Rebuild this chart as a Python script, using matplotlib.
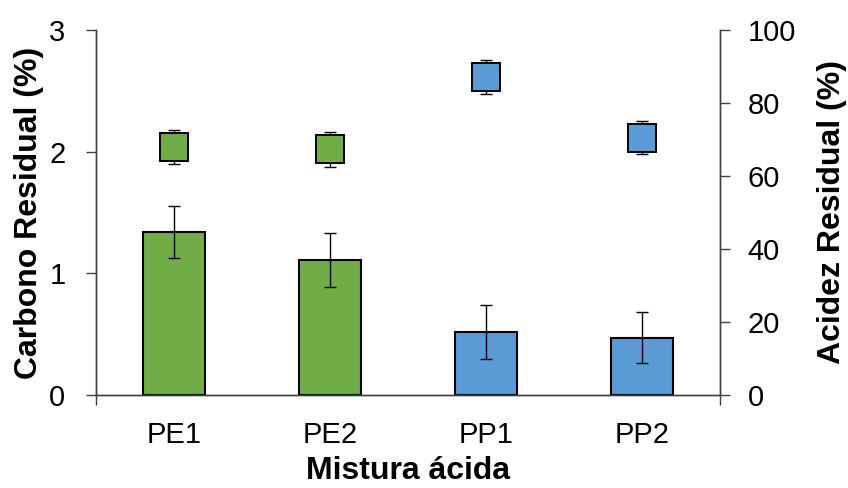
import matplotlib
matplotlib.use("Agg")
import matplotlib.pyplot as plt
import numpy as np

plt.rcParams['font.family'] = ['Liberation Sans', 'DejaVu Sans']

categories = ["PE1", "PE2", "PP1", "PP2"]
carbono = [1.34, 1.11, 0.52, 0.47]
carbono_err = [0.21, 0.22, 0.22, 0.21]
acidez = [67.9, 67.3, 87.1, 70.5]
acidez_err = [4.6, 4.7, 4.7, 4.6]
colors = ["#70AD47", "#70AD47", "#5B9BD5", "#5B9BD5"]

fig = plt.figure(figsize=(8.48, 4.88), dpi=100)
ax = fig.add_axes([96/848, 93/488, 624/848, 365/488])
ax2 = ax.twinx()

x = np.arange(len(categories))
ax.bar(x, carbono, width=0.40, color=colors, edgecolor="black", linewidth=1.5, zorder=2)
ax.errorbar(x, carbono, yerr=carbono_err, fmt="none", ecolor="black", elinewidth=1,
            capsize=4.5, capthick=1, zorder=3)

for xi, yi, ei, c in zip(x, acidez, acidez_err, colors):
    ax2.errorbar([xi], [yi], yerr=[ei], fmt="none", ecolor="black", elinewidth=1,
                 capsize=4.5, capthick=1, zorder=2)
    ax2.plot([xi], [yi], marker="s", markersize=20.5, color=c, markeredgecolor="black",
             markeredgewidth=1.4, linestyle="none", zorder=3)

ax.set_xlim(-0.5, 3.5)
ax.set_ylim(0, 3)
ax2.set_ylim(0, 100)
ax.set_yticks([0, 1, 2, 3])
ax2.set_yticks([0, 20, 40, 60, 80, 100])
ax.set_xticks(x)
ax.set_xticklabels(categories)
ax.set_xticks([-0.5, 3.5], minor=True)

spc = "#404040"
for a in (ax, ax2):
    a.spines["top"].set_visible(False)
    for s in ("left", "right", "bottom"):
        a.spines[s].set_color(spc)
        a.spines[s].set_linewidth(1.0)

ax.tick_params(axis="y", direction="out", length=7, width=1, color=spc, labelsize=21, pad=15)
ax2.tick_params(axis="y", direction="out", length=7, width=1, color=spc, labelsize=21, pad=13)
ax.tick_params(axis="x", which="major", length=0, labelsize=21, pad=18.5)
ax.tick_params(axis="x", which="minor", direction="out", length=7, width=1, color=spc)

ax.set_ylabel("Carbono Residual (%)", fontsize=23, fontweight="bold", labelpad=4)
ax2.set_ylabel("Acidez Residual (%)", fontsize=23, fontweight="bold", labelpad=15)
ax.set_xlabel("Mistura ácida", fontsize=23, fontweight="bold", labelpad=5.5)

fig.savefig("out.png", dpi=100)
